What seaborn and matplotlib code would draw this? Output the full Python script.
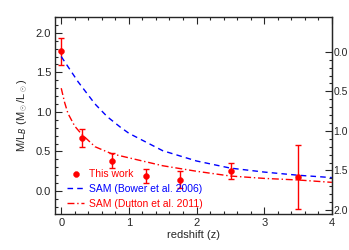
import numpy as np
import pandas as pd
import seaborn as sns
import matplotlib.pyplot as plt
from matplotlib.ticker import MultipleLocator, FixedLocator

sns.set_style("ticks")
plt.rcParams['font.family'] = ['Liberation Sans', 'DejaVu Sans']
plt.rcParams['font.size'] = 8
plt.rcParams['mathtext.fontset'] = 'custom'
plt.rcParams['mathtext.rm'] = 'Liberation Sans'

#   measured M/L points (this work)
z_obs = [0.0, 0.31, 0.75, 1.26, 1.76, 2.51, 3.5]
ml_obs = [1.77, 0.67, 0.38, 0.19, 0.14, 0.25, 0.18]
err_lo = [0.18, 0.11, 0.09, 0.09, 0.10, 0.10, 0.41]
err_hi = [0.17, 0.12, 0.10, 0.09, 0.11, 0.10, 0.40]

#   SAM model curves
z_bower = [0.0, 0.25, 0.5, 0.68, 0.87, 1.0, 1.5, 2.0, 2.5, 3.0, 3.5, 4.0]
ml_bower = [1.70, 1.38, 1.10, 0.94, 0.81, 0.73, 0.51, 0.38, 0.29, 0.24, 0.20, 0.17]
z_dutton = [0.0, 0.05, 0.1, 0.2, 0.3, 0.5, 0.75, 1.0, 1.5, 2.0, 2.5, 3.0, 3.5, 4.0]
ml_dutton = [1.30, 1.12, 0.98, 0.82, 0.72, 0.56, 0.47, 0.42, 0.32, 0.25, 0.19, 0.16, 0.14, 0.11]

#   right axis ticks
right_ticks = [0.0, 0.5, 1.0, 1.5, 2.0]

bower = pd.DataFrame({'z': z_bower, 'ml': ml_bower})
dutton = pd.DataFrame({'z': z_dutton, 'ml': ml_dutton})
obs = pd.DataFrame({'z': z_obs, 'ml': ml_obs})

fig = plt.figure(figsize=(3.49, 2.5), dpi=100)
ax = fig.add_axes([0.158, 0.144, 0.793, 0.788])

ax.errorbar(z_obs, ml_obs, yerr=[err_lo, err_hi], fmt='none', ecolor='red',
            elinewidth=1, capsize=2, capthick=1)
sns.scatterplot(data=obs, x='z', y='ml', color='red', s=18, edgecolor='red',
                ax=ax, label='This work', zorder=3)
sns.lineplot(data=bower, x='z', y='ml', color='blue', lw=1, ax=ax,
             label='SAM (Bower et al. 2006)')
ax.lines[-1].set_dashes([4, 3])
sns.lineplot(data=dutton, x='z', y='ml', color='red', lw=1, ax=ax,
             label='SAM (Dutton et al. 2011)')
ax.lines[-1].set_dashes([5, 2, 1, 2])

ax.set_xlim(-0.09, 4)
ax.set_ylim(-0.29, 2.2)
ax.xaxis.set_major_locator(MultipleLocator(1))
ax.xaxis.set_minor_locator(MultipleLocator(0.2))
ax.yaxis.set_major_locator(FixedLocator([0.0, 0.5, 1.0, 1.5, 2.0]))
ax.yaxis.set_minor_locator(MultipleLocator(0.1))
ax.tick_params(which='both', direction='in', top=True, right=False, width=0.8)
ax.tick_params(which='major', length=5, pad=3)
ax.tick_params(which='minor', length=2.5)
ax.set_xlabel('redshift (z)', labelpad=1)
ax.set_ylabel(r'M/L$_B$ (M$_\odot$/L$_\odot$)', labelpad=4)
for s in ax.spines.values():
    s.set_linewidth(1)

#   right axis is inverted
ax2 = ax.secondary_yaxis('right', functions=(lambda v: 1.76 - v, lambda v: 1.76 - v))
ax2.yaxis.set_major_locator(FixedLocator(right_ticks))
ax2.yaxis.set_minor_locator(FixedLocator([v / 10 for v in range(0, 21)]))
ax2.tick_params(which='both', direction='in', width=0.8, pad=1, labelsize=7.5)
ax2.tick_params(which='major', length=5)
ax2.tick_params(which='minor', length=2.5)

leg = ax.legend(loc='lower left', bbox_to_anchor=(0.01, -0.02), frameon=False,
                fontsize=7.5, handlelength=1.6, handletextpad=0.5, labelspacing=0.45)
for txt, col in zip(leg.get_texts(), ['red', 'blue', 'red']):
    txt.set_color(col)

fig.savefig('out.png', dpi=100)
